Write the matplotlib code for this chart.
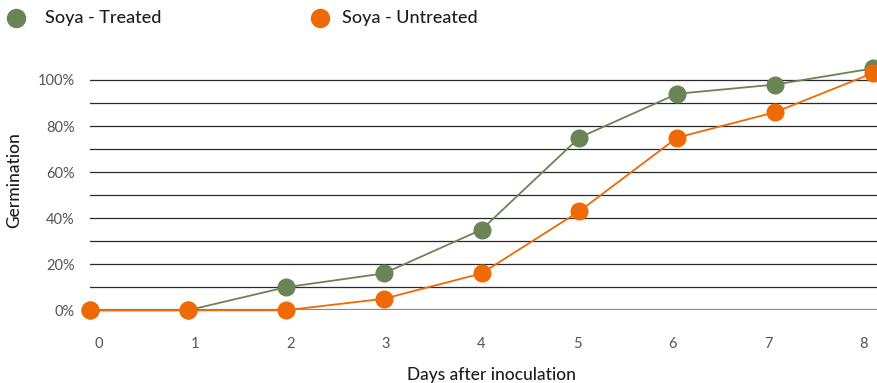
import matplotlib
matplotlib.use("Agg")
import matplotlib.pyplot as plt
from matplotlib.lines import Line2D
from matplotlib.ticker import FuncFormatter

# Germination data (% of seeds) by days after inoculation
days = [0, 1, 2, 3, 4, 5, 6, 7, 8]
treated = [0, 0, 10, 16, 35, 75, 94, 98, 105]
untreated = [0, 0, 0, 5, 16, 43, 75, 86, 103]
series_names = ["Soya - Treated", "Soya - Untreated"]
x_title = "Days after inoculation"
y_title = "Germination"

GREEN = "#6b8456"
ORANGE = "#ef6a04"
FONT = ["Lato", "DejaVu Sans"]
plt.rcParams["font.family"] = FONT

W, H = 878, 383
fig = plt.figure(figsize=(W / 100, H / 100), dpi=100)

# plot area in pixels
left_px, right_px, bottom_px, top_px = 90, 878, 310.3, 50
ax = fig.add_axes([left_px / W, 1 - bottom_px / H,
                   (right_px - left_px) / W, (bottom_px - top_px) / H])

ax.set_xlim(0, 8.051)
ax.set_ylim(0, 113)

ax.plot(days, treated, color=GREEN, lw=1.3, marker="o", ms=12,
        mec=GREEN, mfc=GREEN, clip_on=False, zorder=4)
ax.plot(days, untreated, color=ORANGE, lw=1.3, marker="o", ms=12,
        mec=ORANGE, mfc=ORANGE, clip_on=False, zorder=5)

# horizontal rules every 10 %, labels every 20 %
ax.set_yticks(list(range(0, 101, 20)))
ax.set_yticks(list(range(10, 100, 20)), minor=True)
ax.yaxis.set_major_formatter(FuncFormatter(lambda v, p: f"{int(v)}%"))
ax.grid(axis="y", which="both", color="#2a2a2a", lw=0.9, zorder=1)
ax.axhline(0, color="#8a8a8a", lw=1.6, zorder=2)

# day labels sit on a slightly narrower spacing than the points
label_start, label_step = 0.092, 0.9768
ax.set_xticks([label_start + label_step * d for d in days])
ax.set_xticklabels([str(d) for d in days])

ax.tick_params(axis="both", which="both", length=0, colors="#555555",
               labelsize=10.5)
ax.tick_params(axis="x", pad=19)
ax.tick_params(axis="y", pad=11)
for s in ax.spines.values():
    s.set_visible(False)

ax.set_xlabel(x_title, fontsize=12.5, color="#1e1e1e", fontweight="medium")
ax.xaxis.set_label_coords((492 - left_px) / (right_px - left_px),
                          -(375 - bottom_px) / (bottom_px - top_px))
ax.set_ylabel(y_title, fontsize=12.5, color="#1e1e1e", fontweight="medium")
ax.yaxis.set_label_coords(-(left_px - 14) / (right_px - left_px), 0.5)
ax.xaxis.label.set_va("center")
ax.yaxis.label.set_va("center")

# legend row across the top
legend_items = [(16, 45, GREEN, series_names[0]),
                (320, 342, ORANGE, series_names[1])]
for mx, tx, col, name in legend_items:
    fig.add_artist(Line2D([mx / W], [1 - 18 / H], marker="o", ms=13,
                          color=col, mec=col, ls="none",
                          transform=fig.transFigure))
    fig.text(tx / W, 1 - 18 / H, name, fontsize=13, color="#1e1e1e",
             fontweight="medium", va="center", ha="left")

fig.savefig("out.png", dpi=100)
